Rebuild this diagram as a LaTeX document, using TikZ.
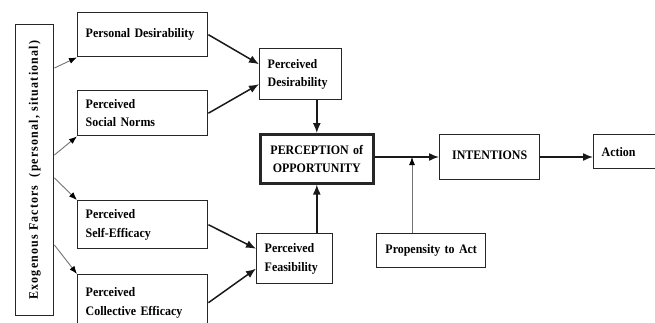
\documentclass[tikz,border=0pt]{standalone}
\usepackage{fontspec}
\setmainfont[FakeStretch=0.92]{Liberation Serif}
\usetikzlibrary{arrows.meta,calc}
\begin{document}
\begin{tikzpicture}[x=1pt,y=-1pt,
  box/.style={draw=black!85, line width=1.4pt, rectangle, inner xsep=8pt, inner ysep=0pt,
    font=\fontsize{13}{18.5}\selectfont\bfseries, anchor=north west, align=left},
  cbox/.style={box, align=center},
  thickbox/.style={cbox, line width=2.6pt},
  arr/.style={line width=1.5pt, draw=black!90, -{Latex[length=10pt,width=8pt]}},
  garr/.style={line width=0.9pt, draw=black!55, -{Latex[length=8pt,width=6pt,fill=black,color=black]}}
]
\useasboundingbox (0,0) rectangle (655,322);
\clip (0,0) rectangle (655,322);
\fill[white] (0,0) rectangle (655,322);

\node[cbox, inner xsep=0pt, minimum width=38, minimum height=291] (exo) at (15,24)
  {\rotatebox{90}{\addfontfeature{LetterSpace=9}Exogenous Factors\ \ (personal, situational)}};

\node[box, minimum width=130, minimum height=44, text width=114] (pd1) at (77,12) {\raisebox{4pt}{Personal Desirability}};
\node[box, minimum width=130, minimum height=45, text width=114] (psn) at (77,90) {Perceived\\Social Norms};
\node[box, minimum width=130, minimum height=48, text width=114] (pse) at (77,200) {Perceived\\Self-Efficacy};
\node[box, minimum width=130, minimum height=56, text width=114] (pce) at (77,274) {Perceived\\Collective Efficacy};

\node[box, minimum width=82, minimum height=51, text width=66] (pdes) at (259,48) {Perceived\\Desirability};
\node[thickbox, minimum width=113, minimum height=49, text width=97] (po) at (259,133) {PERCEPTION of\\OPPORTUNITY};
\node[box, minimum width=76, minimum height=50, text width=60] (pfeas) at (256,233) {Perceived\\Feasibility};
\node[cbox, minimum width=109, minimum height=34, text width=93] (prop) at (376,233) {Propensity to Act};
\node[cbox, minimum width=100, minimum height=45, text width=84] (int) at (439,134) {\raisebox{5pt}{INTENTIONS}};
\node[box, minimum width=70, minimum height=34, text width=54] (act) at (593,134) {Action};

\coordinate (j) at (412,157);

\draw[arr] (pd1.east) -- ($(pdes.west)+(0,-10)$);
\draw[arr] (psn.east) -- ($(pdes.west)+(0,10)$);
\draw[arr] (pse.east) -- ($(pfeas.west)+(0,-10)$);
\draw[arr] (pce.east) -- ($(pfeas.west)+(0,10)$);
\draw[arr] (po.north |- pdes.south) -- (po.north);
\draw[arr] (po.south |- pfeas.north) -- (po.south);
\draw[arr] (po.east |- j) -- (int.west |- j);
\draw[arr] (int.east |- j) -- (act.west |- j);
\draw[garr] (prop.north -| j) -- (j);

\draw[garr] ($(exo.north east)+(0,44)$) -- (pd1.south west);
\draw[garr] ($(exo.north east)+(0,131)$) -- (psn.south west);
\draw[garr] ($(exo.north east)+(0,154)$) -- (pse.north west);
\draw[garr] ($(exo.north east)+(0,221)$) -- (pce.north west);
\end{tikzpicture}
\end{document}
